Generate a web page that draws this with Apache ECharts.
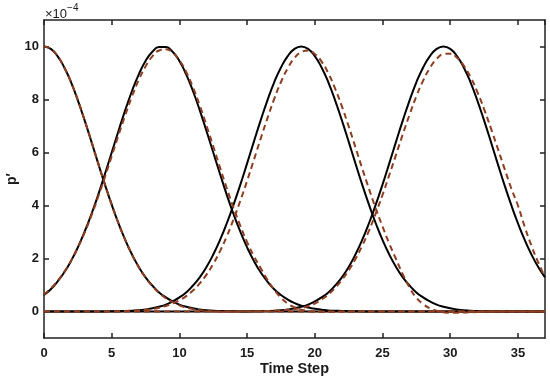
<!DOCTYPE html>
<html>
<head>
<meta charset="utf-8">
<script src="https://cdn.jsdelivr.net/npm/echarts@6/dist/echarts.min.js"></script>
<style>html,body{margin:0;padding:0;background:#fff}#c{width:550px;height:381px}</style>
</head>
<body>
<div id="c"></div>
<script>
// Time steps (half-step samples)
const timeSteps = [
  0,0.5,1,1.5,2,2.5,3,3.5,4,4.5,
  5,5.5,6,6.5,7,7.5,8,8.5,9,9.5,
  10,10.5,11,11.5,12,12.5,13,13.5,14,14.5,
  15,15.5,16,16.5,17,17.5,18,18.5,19,19.5,
  20,20.5,21,21.5,22,22.5,23,23.5,24,24.5,
  25,25.5,26,26.5,27,27.5,28,28.5,29,29.5,
  30,30.5,31,31.5,32,32.5,33,33.5,34,34.5,
  35,35.5,36,36.5,37];
const xTicks = [0,5,10,15,20,25,30,35];
const yTicks = [0,2,4,6,8,10];

// p' (x 1e-4), reference solution (black solid)
const exact1 = [
  10,9.91,9.64,9.21,8.65,7.97,7.21,6.41,5.59,4.79,
  4.03,3.33,2.70,2.15,1.68,1.29,0.98,0.72,0.53,0.38,
  0.26,0.18,0.12,0.08,0.05,0.03,0.02,0.01,0.01,0,
  0,0,0,0,0,0,0,0,0,0,
  0,0,0,0,0,0,0,0,0,0,
  0,0,0,0,0,0,0,0,0,0,
  0,0,0,0,0,0,0,0,0,0,
  0,0,0,0,0];
const exact2 = [
  0.62,0.84,1.13,1.48,1.91,2.42,3.01,3.67,4.40,5.19,
  6.00,6.81,7.60,8.32,8.95,9.45,9.80,9.98,9.98,9.80,
  9.45,8.95,8.32,7.60,6.81,6.00,5.19,4.40,3.67,3.01,
  2.42,1.91,1.48,1.13,0.84,0.62,0.45,0.32,0.22,0.15,
  0.10,0.07,0.04,0.03,0.02,0.01,0.01,0,0,0,
  0,0,0,0,0,0,0,0,0,0,
  0,0,0,0,0,0,0,0,0,0,
  0,0,0,0,0];
const exact3 = [
  0,0,0,0,0,0,0,0,0,0,
  0.01,0.01,0.02,0.03,0.05,0.08,0.12,0.18,0.26,0.38,
  0.53,0.72,0.98,1.29,1.68,2.15,2.70,3.33,4.03,4.79,
  5.59,6.41,7.21,7.97,8.65,9.21,9.64,9.91,10,9.91,
  9.64,9.21,8.65,7.97,7.21,6.41,5.59,4.79,4.03,3.33,
  2.70,2.15,1.68,1.29,0.98,0.72,0.53,0.38,0.26,0.18,
  0.12,0.08,0.05,0.03,0.02,0.01,0.01,0,0,0,
  0,0,0,0,0];
const exact4 = [
  0,0,0,0,0,0,0,0,0,0,
  0,0,0,0,0,0,0,0,0,0,
  0,0,0,0,0,0,0,0,0,0,
  0,0.01,0.01,0.02,0.03,0.05,0.08,0.12,0.18,0.26,
  0.38,0.53,0.72,0.98,1.29,1.68,2.15,2.70,3.33,4.03,
  4.79,5.59,6.41,7.21,7.97,8.65,9.21,9.64,9.91,10,
  9.91,9.64,9.21,8.65,7.97,7.21,6.41,5.59,4.79,4.03,
  3.33,2.70,2.15,1.68,1.29];

// p' (x 1e-4), computed solution (dashed)
const model1 = [
  10,9.91,9.64,9.21,8.65,7.98,7.22,6.42,5.60,4.80,
  4.04,3.33,2.70,2.14,1.67,1.28,0.96,0.70,0.50,0.35,
  0.23,0.15,0.09,0.05,0.02,0.00,-0.01,-0.01,-0.01,0,
  0,0,0,0,0,0,0,0,0,0,
  0,0,0,0,0,0,0,0,0,0,
  0,0,0,0,0,0,0,0,0,0,
  0,0,0,0,0,0,0,0,0,0,
  0,0,0,0,0];
const model2 = [
  0.64,0.87,1.15,1.50,1.92,2.41,2.98,3.62,4.33,5.08,
  5.86,6.65,7.41,8.12,8.74,9.25,9.63,9.85,9.90,9.77,
  9.48,9.04,8.46,7.78,7.02,6.23,5.43,4.65,3.91,3.23,
  2.62,2.09,1.64,1.20,0.82,0.52,0.30,0.16,0.07,0.02,
  -0.01,-0.02,-0.02,-0.02,-0.01,-0.01,0,0,0,0,
  0,0,0,0,0,0,0,0,0,0,
  0,0,0,0,0,0,0,0,0,0,
  0,0,0,0,0];
const model3 = [
  0,0,0,0,0,0,0,0,0,0,
  0.01,0.01,0.02,0.03,0.04,0.06,0.09,0.14,0.21,0.30,
  0.42,0.58,0.79,1.06,1.39,1.80,2.28,2.84,3.48,4.18,
  4.93,5.72,6.52,7.29,8.02,8.66,9.18,9.57,9.79,9.85,
  9.72,9.43,8.99,8.41,7.74,6.99,6.20,5.40,4.63,3.89,
  3.21,2.56,1.98,1.40,0.90,0.52,0.28,0.12,0.03,-0.03,
  -0.05,-0.05,-0.04,-0.03,-0.02,-0.01,0,0,0,0,
  0,0,0,0,0];
const model4 = [
  0,0,0,0,0,0,0,0,0,0,
  0,0,0,0,0,0,0,0,0,0,
  0,0,0,0,0,0,0,0,0,0,
  0,0.01,0.01,0.02,0.03,0.05,0.06,0.09,0.13,0.20,
  0.30,0.45,0.64,0.89,1.19,1.55,1.98,2.48,3.05,3.70,
  4.40,5.15,5.92,6.69,7.43,8.12,8.71,9.19,9.53,9.71,
  9.73,9.58,9.28,8.85,8.29,7.64,6.92,6.17,5.41,4.66,
  4.00,3.20,2.48,1.85,1.30];

const exactSeries = [exact1, exact2, exact3, exact4];
const modelSeries = [model1, model2, model3, model4];

const pair = arr => timeSteps.map((t, i) => [t, arr[i]]);
const FONT = 'Liberation Sans, Arial, Helvetica, sans-serif';
const labelStyle = {color:'#1a1a1a', fontSize:13, fontWeight:'bold', fontFamily:FONT};
const axisLineStyle = {color:'#222', width:1.5};

const series = [];
exactSeries.forEach(a => series.push({
  type:'line', data:pair(a), smooth:true, symbol:'none', silent:true,
  lineStyle:{color:'#000', width:2}, z:2
}));
modelSeries.forEach(a => series.push({
  type:'line', data:pair(a), smooth:true, symbol:'none', silent:true,
  lineStyle:{color:'#8f3f1f', width:2, type:[6,4]}, z:3
}));

const chart = echarts.init(document.getElementById('c'), null, {renderer:'canvas'});
chart.setOption({
  animation:false,
  backgroundColor:'#fff',
  grid:{left:44, right:5, top:20, bottom:43, containLabel:false, outerBoundsMode:'none'},
  xAxis:[{
    type:'value', min:0, max:37, interval:5,
    name:'Time Step', nameLocation:'middle', nameGap:23, nameMoveOverlap:false,
    nameTextStyle:{color:'#1a1a1a', fontSize:14.5, fontWeight:'bold', fontFamily:FONT},
    axisLine:{show:true, onZero:false, lineStyle:axisLineStyle},
    axisTick:{show:true, inside:true, length:5, lineStyle:axisLineStyle},
    axisLabel:Object.assign({margin:9, showMaxLabel:false, formatter:v => xTicks.includes(v) ? String(v) : ''}, labelStyle),
    splitLine:{show:false}
  },{
    type:'value', position:'top', min:0, max:37, interval:5,
    axisLine:{show:true, onZero:false, lineStyle:axisLineStyle},
    axisTick:{show:true, inside:true, length:5, lineStyle:axisLineStyle},
    axisLabel:{show:false}, splitLine:{show:false}
  }],
  yAxis:[{
    type:'value', min:-1, max:11, interval:1,
    name:'p\u2032', nameLocation:'middle', nameGap:25, nameRotate:90, nameMoveOverlap:false,
    nameTextStyle:{color:'#1a1a1a', fontSize:14, fontWeight:'bold', fontFamily:FONT},
    axisLine:{show:true, onZero:false, lineStyle:axisLineStyle},
    axisTick:{show:true, inside:true, length:5, lineStyle:axisLineStyle, customValues: yTicks},
    axisLabel:Object.assign({margin:5, customValues: yTicks}, labelStyle),
    splitLine:{show:false}
  },{
    type:'value', position:'right', min:-1, max:11, interval:1,
    axisLine:{show:true, onZero:false, lineStyle:axisLineStyle},
    axisTick:{show:true, inside:true, length:5, lineStyle:axisLineStyle, customValues: yTicks},
    axisLabel:{show:false}, splitLine:{show:false}
  }],
  graphic:[{
    type:'text', left:45, top:3,
    style:{
      text:'{a|\u00d710}{b|\u22124}',
      rich:{
        a:{fontSize:13, fill:'#1a1a1a', fontFamily:FONT, padding:[5,0,0,0]},
        b:{fontSize:10, fill:'#1a1a1a', fontFamily:FONT, padding:[0,0,7,0]}
      }
    }
  }],
  series:series
});
</script>
</body>
</html>
